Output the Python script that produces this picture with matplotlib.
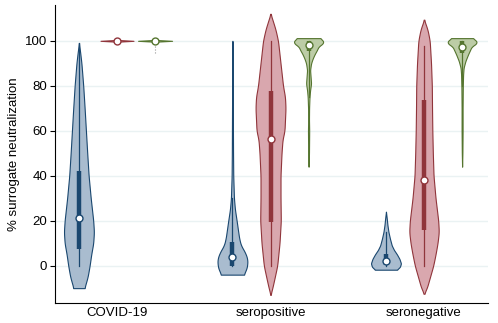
import numpy as np
import matplotlib
matplotlib.use("Agg")
import matplotlib.pyplot as plt

plt.rcParams['font.family'] = ['Liberation Sans', 'DejaVu Sans']

groups = ["COVID-19", "seropositive", "seronegative"]
yticks = [0, 20, 40, 60, 80, 100]

# violin outlines: value -> half width (pixels)
blue_covid_y = [-10, -5, 0, 5, 10, 15, 20, 30, 40, 50, 60, 70, 80, 90, 95, 99]
blue_covid_w = [5.5, 8.7, 10.7, 12.3, 14.3, 15, 14.3, 11.8, 9.7, 8.3, 7, 5.7, 4.3, 2.5, 1.2, 0]
red_covid_y = [99.6, 100, 100.4]
red_covid_w = [0, 16.5, 0]
green_covid_y = [99.6, 100, 100.4]
green_covid_w = [0, 17, 0]

blue_pos_y = [-4, -2, 0, 3, 6, 9, 12, 15, 20, 25, 30, 40, 50, 70, 90, 100]
blue_pos_w = [11.2, 13.5, 14.8, 15, 12.5, 8.5, 6.8, 5.8, 4.2, 2.5, 1.5, 0.8, 0.6, 0.4, 0.2, 0]
red_pos_y = [-13, -10, -5, 0, 10, 20, 30, 40, 50, 56, 60, 70, 75, 80, 90, 100, 105, 110, 112]
red_pos_w = [0, 1.8, 4.3, 6.7, 9, 10.3, 10, 10, 11, 12, 14, 15, 14.5, 12.5, 10, 7.5, 5, 1.5, 0]
green_pos_y = [44, 50, 60, 65, 70, 75, 78, 81, 84, 87, 90, 92, 94, 96, 97.5, 99, 100.5, 101.2]
green_pos_w = [0, 0.4, 0.6, 0.4, 0.5, 0.9, 1.5, 2.5, 2, 1.5, 2.5, 4, 6, 8.5, 10, 15, 14, 11]

blue_neg_y = [-1.8, -0.5, 1, 3, 5, 7, 9, 12, 15, 18, 21, 24]
blue_neg_w = [11, 14, 15, 13.5, 11, 8, 5.8, 4, 2.5, 1.5, 0.8, 0]
red_neg_y = [-12.5, -10, -5, 0, 5, 10, 15, 20, 30, 40, 50, 60, 70, 80, 90, 100, 105, 109.4]
red_neg_w = [0, 2.8, 6, 9.2, 11.5, 13.5, 14.8, 14.2, 11.5, 9.5, 8.8, 8.3, 8, 7.8, 7, 5.7, 3.5, 0]
green_neg_y = [44, 50, 60, 70, 80, 85, 88, 91, 94, 97.4, 99, 100.5, 101.2]
green_neg_w = [0, 0.3, 0.5, 0.5, 0.7, 1, 1.5, 3.3, 6, 9.5, 15, 13.5, 10]

# box stats: lower whisker, q1, median, q3, upper whisker
blue_stats = [[0, 7.3, 21.4, 42, 99], [0, 0, 3.8, 10.5, 30], [0, 0.3, 1.9, 5.4, 15]]
red_stats = [[100, 100, 100, 100, 100], [0, 19.4, 56.4, 77.7, 100], [0, 16, 38, 73.5, 97.7]]
green_stats = [[94.5, 100, 100, 100, 100], [75, 95.5, 98.2, 100, 100], [80, 94.5, 97.4, 100, 100]]

series = [
    ("#1a476f", "#a9bccf", -0.248, [(blue_covid_y, blue_covid_w), (blue_pos_y, blue_pos_w), (blue_neg_y, blue_neg_w)], blue_stats),
    ("#90353b", "#d9a7ae", 0.0, [(red_covid_y, red_covid_w), (red_pos_y, red_pos_w), (red_neg_y, red_neg_w)], red_stats),
    ("#55752f", "#bccca6", 0.248, [(green_covid_y, green_covid_w), (green_pos_y, green_pos_w), (green_neg_y, green_neg_w)], green_stats),
]

px = 153.5  # pixels per group step


def smooth_outline(ys, ws):
    ys = np.asarray(ys, float)
    ws = np.asarray(ws, float)
    if len(ys) < 5:
        return ys, ws
    yy = np.linspace(ys[0], ys[-1], 300)
    ww = np.interp(yy, ys, ws)
    k = 9
    pad = np.concatenate([np.full(k, ww[0]), ww, np.full(k, ww[-1])])
    ww = np.convolve(pad, np.ones(k) / k, mode="same")[k:-k]
    return yy, ww


fig = plt.figure(figsize=(4.98, 3.23), dpi=100)
ax = fig.add_axes([0.1104, 0.062, 0.8696, 0.923])

for line_c, fill_c, off, shapes, stats in series:
    for i, (ys, ws) in enumerate(shapes):
        xc = i + off
        yy, ww = smooth_outline(ys, ws)
        w = ww / px
        ax.fill_betweenx(yy, xc - w, xc + w, facecolor=fill_c, edgecolor=line_c, linewidth=0.8, zorder=2)
        lo, q1, med, q3, hi = stats[i]
        degenerate = (i == 0 and off != -0.248)
        if degenerate:
            ax.plot([xc, xc], [lo, q1], color="#999999", lw=0.8, ls=":", zorder=3)
        else:
            ax.plot([xc, xc], [lo, hi], color=line_c, lw=0.9, zorder=3)
            ax.plot([xc, xc], [q1, q3], color=line_c, lw=3.2, solid_capstyle="butt", zorder=3)
        ax.plot(xc, med, "o", ms=5, mfc="white", mec=line_c, mew=1.0, zorder=4)

ax.set_xlim(-0.404, 2.417)
ax.set_ylim(-16.6, 116)
ax.set_yticks(yticks)
ax.set_xticks(range(len(groups)))
ax.set_xticklabels(groups, fontsize=9.5)
ax.tick_params(axis="x", length=0, pad=3)
ax.tick_params(axis="y", length=3.5, width=0.8, labelsize=9.5, pad=2)
ax.grid(axis="y", color="#eaf2f3", lw=1.0, zorder=0)
ax.set_axisbelow(True)
for s in ["top", "right"]:
    ax.spines[s].set_visible(False)
ax.spines["left"].set_linewidth(0.8)
ax.spines["bottom"].set_linewidth(0.8)
ax.set_ylabel("% surrogate neutralization", fontsize=9.5, labelpad=4)

fig.savefig("out.png", dpi=100)
